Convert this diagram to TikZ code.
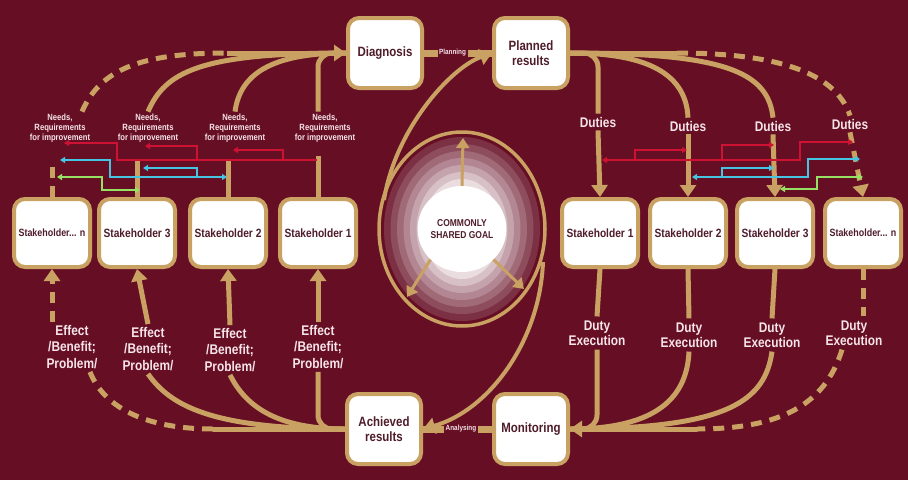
\documentclass[tikz,border=0pt]{standalone}
\usepackage{fontspec}
\setmainfont[FakeStretch=0.85]{Liberation Sans}
\usetikzlibrary{arrows.meta}
\usetikzlibrary{shapes.geometric}
\definecolor{maroon}{RGB}{102,14,36}
\definecolor{tanline}{RGB}{201,161,98}
\definecolor{boxtext}{RGB}{78,28,42}
\definecolor{pinktext}{RGB}{246,228,233}
\definecolor{redwire}{RGB}{206,18,52}
\definecolor{bluewire}{RGB}{70,196,226}
\definecolor{greenwire}{RGB}{150,224,100}

\tikzset{
  box/.style={draw=tanline, line width=4pt, fill=white, rounded corners=11pt,
    minimum width=74pt, minimum height=70pt, inner sep=0pt, align=center,
    text=boxtext, font=\bfseries\fontsize{13.5}{15}\selectfont},
  holder/.style={box, minimum width=76pt, minimum height=68pt,
    font=\bfseries\fontsize{12}{14}\selectfont},
  flow/.style={draw=tanline, line width=5pt},
  dflow/.style={flow, dash pattern=on 11pt off 8pt},
  tip/.style={-{Triangle[length=12pt,width=16pt]}},
  needs/.style={text=pinktext, align=center, inner sep=2pt,
    font=\bfseries\fontsize{9}{10}\selectfont},
  duty/.style={text=pinktext, align=center, inner sep=3pt,
    font=\bfseries\fontsize{14}{15}\selectfont},
  effect/.style={duty, font=\bfseries\fontsize{14}{16.5}\selectfont},
  small/.style={fill=maroon, text=pinktext, inner sep=1.5pt,
    font=\bfseries\fontsize{7.5}{9}\selectfont},
  wire/.style={line width=1.6pt, >={Triangle[length=5pt,width=6pt]}}
}

\begin{document}
\begin{tikzpicture}[x=1pt,y=-1pt]
  \useasboundingbox (0,0) rectangle (908,480);
  \fill[maroon] (0,0) rectangle (908,480);

  % goal
  \foreach \i in {0,...,6} {
    \pgfmathtruncatemacro{\shade}{86-12*\i}
    \pgfmathsetmacro{\rx}{78-6.5*\i}
    \pgfmathsetmacro{\ry}{92-7*\i}
    \fill[maroon!\shade!white] (462,229) ellipse [x radius=\rx pt, y radius=\ry pt];
  }
  \node[ellipse, fill=white, minimum width=68pt, minimum height=86pt, inner sep=0pt,
    align=center, text=boxtext, font=\bfseries\fontsize{10}{12}\selectfont]
    (goal) at (462,229) {COMMONLY\\SHARED GOAL};
  \coordinate (gu) at (463,138);
  \coordinate (gl) at (407,297);
  \coordinate (gr) at (524,289);
  \draw[flow, line width=3pt, -{Triangle[length=10pt,width=13pt]}] (goal.north) -- (gu);
  \draw[flow, line width=3pt, -{Triangle[length=10pt,width=13pt]}] (goal.south west) -- (gl);
  \draw[flow, line width=3pt, -{Triangle[length=10pt,width=13pt]}] (goal.south east) -- (gr);
  \draw[flow, line width=3.5pt] (462,229) ellipse [x radius=83pt, y radius=97pt];

  % main boxes
  \node[box] (diag) at (385,53) {Diagnosis};
  \node[box] (plan) at (531,53) {Planned\\results};
  \node[box] (achv) at (384,429) {Achieved\\results};
  \node[box] (mon) at (531,429) {Monitoring};

  % spiral
  \draw[flow, line width=7pt] (diag.east) -- (plan.west)
    node[small, pos=0.42] (pl) {Planning};
  \draw[flow, line width=7pt] (mon.west) -- (achv.east)
    node[small, pos=0.45] (an) {Analysing};
  \draw[flow, line width=4pt, tip] (384,200) .. controls (395,130) and (450,68) .. (plan.west);
  \draw[flow, line width=4pt, tip] (543,262) .. controls (540,340) and (490,410) .. (achv.east);

  % stakeholders, left
  \node[holder, font=\bfseries\fontsize{10.5}{12}\selectfont] (ln) at (52,233) {Stakeholder... n};
  \node[holder] (l3) at (137,233) {Stakeholder 3};
  \node[holder] (l2) at (228,233) {Stakeholder 2};
  \node[holder] (l1) at (318,233) {Stakeholder 1};
  % stakeholders, right
  \node[holder] (r1) at (600,233) {Stakeholder 1};
  \node[holder] (r2) at (688,233) {Stakeholder 2};
  \node[holder] (r3) at (775,233) {Stakeholder 3};
  \node[holder, font=\bfseries\fontsize{10.5}{12}\selectfont] (rn) at (863,233) {Stakeholder... n};

  % labels
  \node[needs] (ndn) at (60,128) {Needs,\\Requirements\\for improvement};
  \node[needs] (nd3) at (148,128) {Needs,\\Requirements\\for improvement};
  \node[needs] (nd2) at (235,128) {Needs,\\Requirements\\for improvement};
  \node[needs] (nd1) at (325,128) {Needs,\\Requirements\\for improvement};
  \node[effect] (efn) at (72,347) {Effect\\/Benefit;\\Problem/};
  \node[effect] (ef3) at (148,349) {Effect\\/Benefit;\\Problem/};
  \node[effect] (ef2) at (230,350) {Effect\\/Benefit;\\Problem/};
  \node[effect] (ef1) at (318,347) {Effect\\/Benefit;\\Problem/};
  \node[duty] (du1) at (598,122) {Duties};
  \node[duty] (du2) at (688,126) {Duties};
  \node[duty] (du3) at (773,126) {Duties};
  \node[duty] (dun) at (850,124) {Duties};
  \node[duty, inner sep=4pt] (ex1) at (597,333) {Duty\\Execution};
  \node[duty, inner sep=4pt] (ex2) at (689,335) {Duty\\Execution};
  \node[duty, inner sep=4pt] (ex3) at (772,335) {Duty\\Execution};
  \node[duty, inner sep=4pt] (exn) at (854,333) {Duty\\Execution};

  % top left: needs -> diagnosis
  \coordinate (tl) at (227,53);
  \draw[flow, tip] (tl) -- (diag.west);
  \draw[flow, rounded corners=14pt] (l1.north |- nd1.north) |- (diag.west);
  \draw[flow] (nd2.north) .. controls (240,75) and (270,53) .. (diag.west);
  \draw[flow] (nd3.north) .. controls (165,72) and (200,53) .. (diag.west);
  \draw[dflow] ([xshift=22pt]ndn.north) .. controls (100,70) and (140,53) .. (tl);
  \draw[flow, shorten >=12pt] (l1.north) -- (l1.north |- nd1.south);
  \draw[flow, shorten >=15pt] (l2.north) -- (l2.north |- nd2.south);
  \draw[flow, shorten >=15pt] (l3.north) -- (l3.north |- nd3.south);
  \draw[dflow, shorten >=22pt] (ln.north) -- (ln.north |- ndn.south);

  % top right: planned results -> duties
  \coordinate (tr) at (677,53);
  \draw[flow] (plan.east) -- (tr);
  \draw[flow, rounded corners=14pt] (plan.east) -| (du1.north);
  \draw[flow] (plan.east) .. controls (640,53) and (686,70) .. (du2.north);
  \draw[flow] (plan.east) .. controls (725,53) and (768,72) .. (du3.north);
  \draw[dflow] (tr) .. controls (770,53) and (835,70) .. (dun.north);
  \draw[flow, tip] (du1.south) -- (r1.north);
  \draw[flow, tip] (du2.south) -- (r2.north);
  \draw[flow, tip] (du3.south) -- (r3.north);
  \draw[dflow, tip] (dun.south) -- (rn.north);

  % bottom right: duty execution -> monitoring
  \coordinate (br) at (697,429);
  \draw[flow, tip] (br) -- (mon.east);
  \draw[flow, rounded corners=14pt] (ex1.south) |- (mon.east);
  \draw[flow] (ex2.south) .. controls (687,395) and (660,429) .. (mon.east);
  \draw[flow] (ex3.south) .. controls (765,400) and (730,429) .. (mon.east);
  \draw[dflow] ([xshift=-12pt]exn.south) .. controls (825,405) and (780,429) .. (br);
  \draw[flow] (r1.south) -- (ex1.north);
  \draw[flow] (r2.south) -- (ex2.north);
  \draw[flow] (r3.south) -- (ex3.north);
  \draw[dflow] (rn.south) -- (rn.south |- exn.north);

  % bottom left: achieved results -> effect
  \coordinate (bl) at (213,429);
  \draw[flow] (achv.west) -- (bl);
  \draw[flow, rounded corners=14pt] (ef1.south) |- (achv.west);
  \draw[flow] (ef2.south) .. controls (245,405) and (275,429) .. (achv.west);
  \draw[flow] (ef3.south) .. controls (170,405) and (210,429) .. (achv.west);
  \draw[dflow] ([xshift=18pt]efn.south) .. controls (105,410) and (150,429) .. (bl);
  \draw[flow, tip] (ef1.north) -- (l1.south);
  \draw[flow, tip] (ef2.north) -- (l2.south);
  \draw[flow, tip] (ef3.north) -- (l3.south);
  \draw[dflow, tip] (ln.south |- efn.north) -- (ln.south);

  % wires, left
  \draw[wire, redwire, ->] (317,160) -- (117,160) |- (64,143);
  \draw[wire, redwire, ->] (283,160) |- (233,150);
  \draw[wire, redwire, ->] (197,160) |- (145,146);
  \draw[wire, bluewire, <->] (60,160) -| (110,177) -- (227,177);
  \draw[wire, bluewire, ->] (197,177) |- (143,168);
  \draw[wire, greenwire, <->] (57,177) -| (102,190) -- (140,190);
  % wires, right
  \draw[wire, redwire, <->] (602,160) -- (800,160) |- (853,142);
  \draw[wire, redwire, ->] (635,160) |- (687,150);
  \draw[wire, redwire, ->] (722,160) |- (774,145);
  \draw[wire, bluewire, <->] (692,177) -- (808,177) |- (860,159);
  \draw[wire, bluewire, ->] (722,177) |- (774,168);
  \draw[wire, greenwire, <->] (780,189) -| (817,177) -- (863,177);
\end{tikzpicture}
\end{document}
